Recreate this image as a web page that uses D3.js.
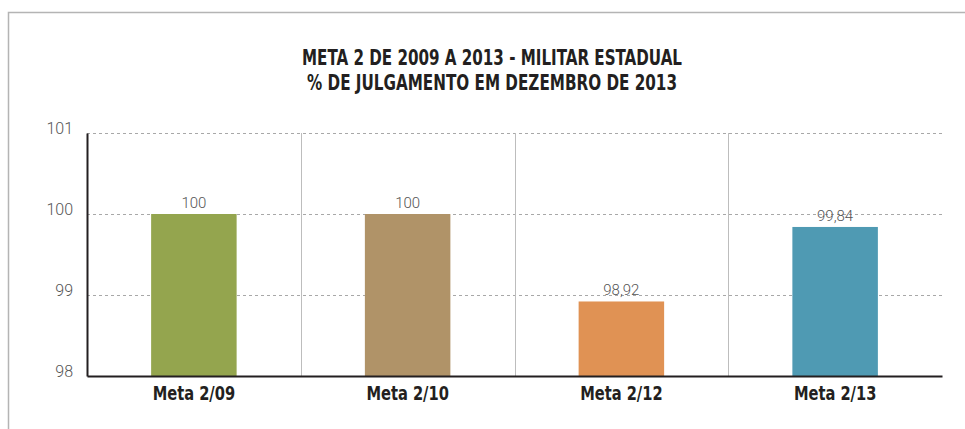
<!DOCTYPE html>
<html>
<head>
<meta charset="utf-8">
<script src="https://cdn.jsdelivr.net/npm/d3@7"></script>
<style>
  html, body { margin: 0; padding: 0; background: #fff; }
  svg { display: block; }
</style>
</head>
<body>
<svg id="chart" width="965" height="429"></svg>
<script>
const categories = ["Meta 2/09", "Meta 2/10", "Meta 2/12", "Meta 2/13"];
const values = [100, 100, 98.92, 99.84];
const valueLabels = ["100", "100", "98,92", "99,84"];
const barColors = ["#94a54e", "#b09368", "#e09254", "#4f9ab3"];
const yTicks = [98, 99, 100, 101];
const titleLines = ["META 2 DE 2009 A 2013 - MILITAR ESTADUAL", "% DE JULGAMENTO EM DEZEMBRO DE 2013"];

const svg = d3.select("#chart");
const W = 965, H = 429;
const m = { left: 87, right: 942, top: 133, bottom: 376 };

const condensed = "'Liberation Sans Narrow', 'Arial Narrow', 'DejaVu Sans Condensed', sans-serif";
const light = "Roboto, 'Open Sans', sans-serif";

// outer frame
svg.append("path")
  .attr("d", `M8.5,${H} L8.5,12.5 L${W},12.5`)
  .attr("fill", "none").attr("stroke", "#b4b4b4").attr("stroke-width", 1.5);

const x = d3.scaleBand().domain(categories).range([m.left, m.right]).paddingInner(0).paddingOuter(0);
const y = d3.scaleLinear().domain([98, 101]).range([m.bottom, m.top]);

// title
svg.append("g").selectAll("text").data(titleLines).join("text")
  .attr("x", 492).attr("y", (d, i) => 65 + i * 25)
  .attr("text-anchor", "middle")
  .attr("font-family", condensed).attr("font-weight", "bold")
  .attr("font-size", 21).attr("fill", "#231f20")
  .attr("textLength", (d, i) => i === 0 ? 380 : 370)
  .attr("lengthAdjust", "spacingAndGlyphs")
  .text(d => d);

// horizontal gridlines
svg.append("g").selectAll("line").data(yTicks.filter(t => t > 98)).join("line")
  .attr("x1", m.left).attr("x2", m.right)
  .attr("y1", d => Math.round(y(d)) + 0.5).attr("y2", d => Math.round(y(d)) + 0.5)
  .attr("stroke", "#a8a8a8").attr("stroke-width", 1).attr("stroke-dasharray", "3,3");

// vertical separators
svg.append("g").selectAll("line").data(categories.slice(1)).join("line")
  .attr("x1", d => Math.round(x(d)) + 0.5).attr("x2", d => Math.round(x(d)) + 0.5)
  .attr("y1", m.top).attr("y2", m.bottom)
  .attr("stroke", "#bdbdbd").attr("stroke-width", 1);

// bars
const bw = x.bandwidth() * 0.4;
svg.append("g").selectAll("rect").data(values).join("rect")
  .attr("x", (d, i) => x(categories[i]) + (x.bandwidth() - bw) / 2)
  .attr("width", bw)
  .attr("y", d => y(d))
  .attr("height", d => y(98) - y(d))
  .attr("fill", (d, i) => barColors[i]);

// value labels
svg.append("g").selectAll("text").data(values).join("text")
  .attr("x", (d, i) => x(categories[i]) + x.bandwidth() / 2)
  .attr("y", d => y(d) - 6)
  .attr("text-anchor", "middle")
  .attr("font-family", light).attr("font-weight", 300)
  .attr("font-size", 15).attr("fill", "#555")
  .text((d, i) => valueLabels[i]);

// y axis
const yAxis = d3.axisLeft(y).tickValues(yTicks).tickSize(0).tickPadding(14).tickFormat(d3.format("d"));
const yg = svg.append("g").attr("transform", `translate(${m.left},0)`).call(yAxis);
yg.select(".domain").attr("stroke", "#231f20").attr("stroke-width", 2);
yg.selectAll("text")
  .attr("font-family", light).attr("font-weight", 300)
  .attr("font-size", 16).attr("fill", "#555")
  .attr("dy", "0.05em");

// x axis
const xAxis = d3.axisBottom(x).tickSize(0).tickPadding(10);
const xg = svg.append("g").attr("transform", `translate(0,${m.bottom})`).call(xAxis);
xg.select(".domain").attr("stroke", "#231f20").attr("stroke-width", 2);
xg.selectAll("text")
  .attr("font-family", condensed).attr("font-weight", "bold")
  .attr("font-size", 20).attr("fill", "#231f20")
  .attr("textLength", 82.5)
  .attr("lengthAdjust", "spacingAndGlyphs");
</script>
</body>
</html>
